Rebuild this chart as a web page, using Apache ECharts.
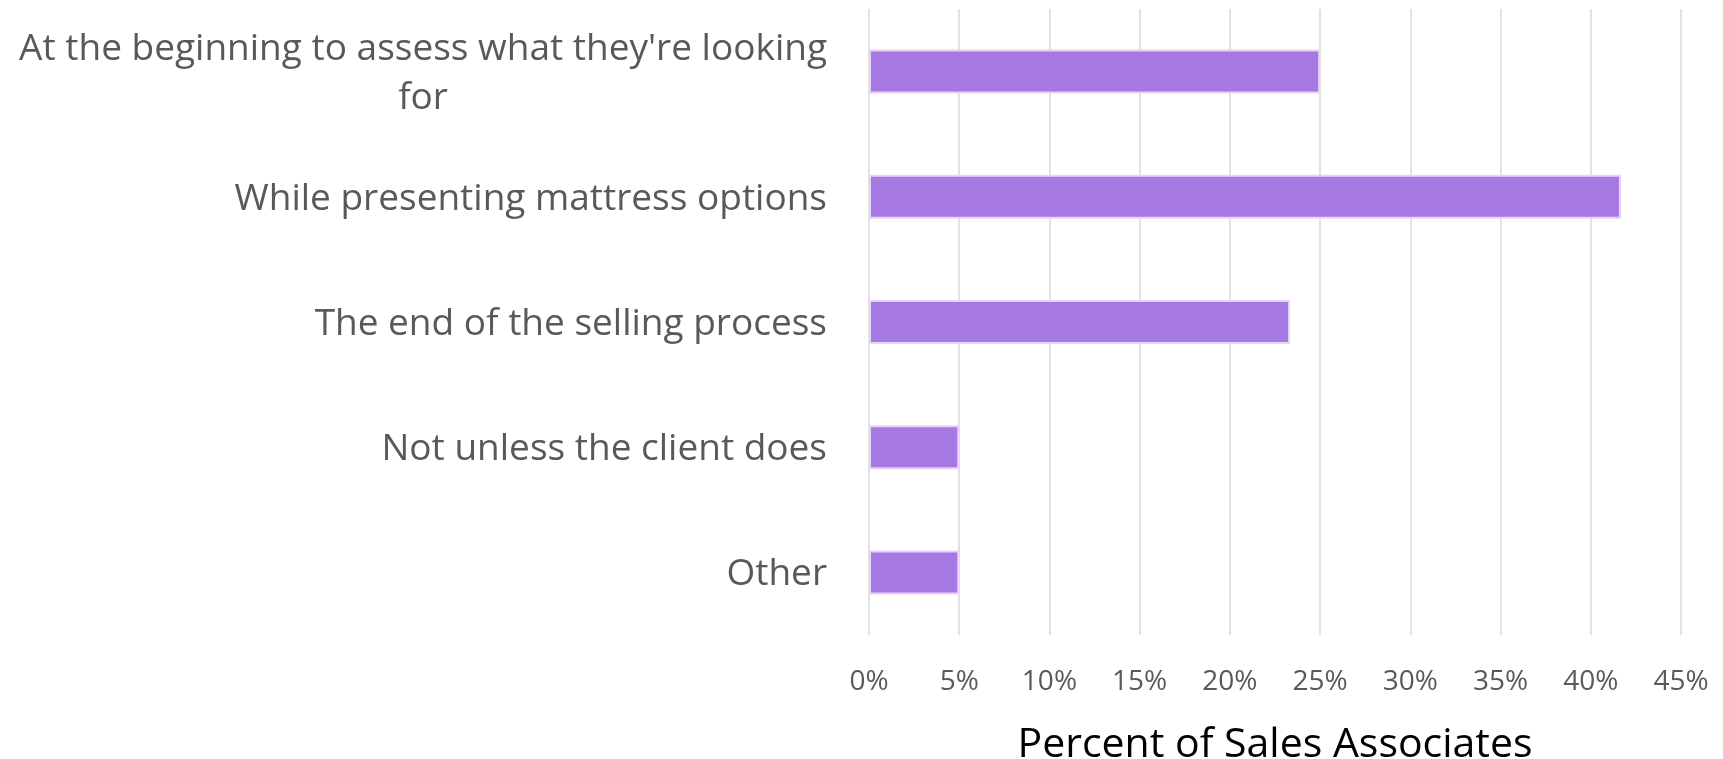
<!DOCTYPE html>
<html>
<head>
<meta charset="utf-8">
<script src="https://cdn.jsdelivr.net/npm/echarts@6/dist/echarts.min.js"></script>
<style>
  html, body { margin: 0; padding: 0; background: #ffffff; }
  #chart { width: 1723px; height: 759px; }
</style>
</head>
<body>
<div id="chart"></div>
<script>
// When sales associates bring up the topic, share of respondents (n = 60)
const categories = [
  "At the beginning to assess what they're looking\nfor",
  "While presenting mattress options",
  "The end of the selling process",
  "Not unless the client does",
  "Other"
];
const shares = [25, 41.67, 23.33, 5, 5];
const tickMax = 45;
const tickStep = 5;

const FONT = "'Open Sans', 'Noto Sans', sans-serif";

const chart = echarts.init(document.getElementById('chart'), null, { renderer: 'canvas' });

chart.setOption({
  animation: false,
  backgroundColor: '#ffffff',
  grid: {
    left: 869, right: 42, top: 9, bottom: 124,
    containLabel: false,
    outerBoundsMode: 'none'
  },
  xAxis: {
    type: 'value',
    min: 0,
    max: tickMax,
    interval: tickStep,
    axisLine: { show: false },
    axisTick: { show: false },
    splitLine: { show: true, lineStyle: { color: '#d9d9d9', width: 1.5 } },
    axisLabel: {
      formatter: v => v + '%',
      color: '#595959',
      fontFamily: FONT,
      fontSize: 28,
      margin: 33
    },
    name: 'Percent of Sales Associates',
    nameLocation: 'middle',
    nameGap: 90,
    nameTextStyle: { color: '#000000', fontFamily: FONT, fontSize: 41 }
  },
  yAxis: {
    type: 'category',
    inverse: true,
    data: categories,
    axisLine: { show: false },
    axisTick: { show: false },
    splitLine: { show: false },
    axisLabel: {
      margin: 42,
      color: '#595959',
      fontFamily: FONT,
      fontSize: 37,
      lineHeight: 49,
      padding: [5, 0, 0, 0],
      formatter: function (value) {
        const lines = value.split('\n');
        if (lines.length === 1) return value;
        return lines.map((l, i) => (i === 0 ? '{a|' + l + '}' : '{c|' + l + '}')).join('\n');
      },
      rich: {
        a: { color: '#595959', fontFamily: FONT, fontSize: 37, lineHeight: 49 },
        c: { color: '#595959', fontFamily: FONT, fontSize: 37, lineHeight: 49, align: 'center' }
      }
    }
  },
  series: [{
    type: 'bar',
    data: shares,
    barWidth: 44,
    itemStyle: {
      color: '#a678e2',
      borderColor: '#e6d2fa',
      borderWidth: 2
    }
  }]
});
</script>
</body>
</html>
